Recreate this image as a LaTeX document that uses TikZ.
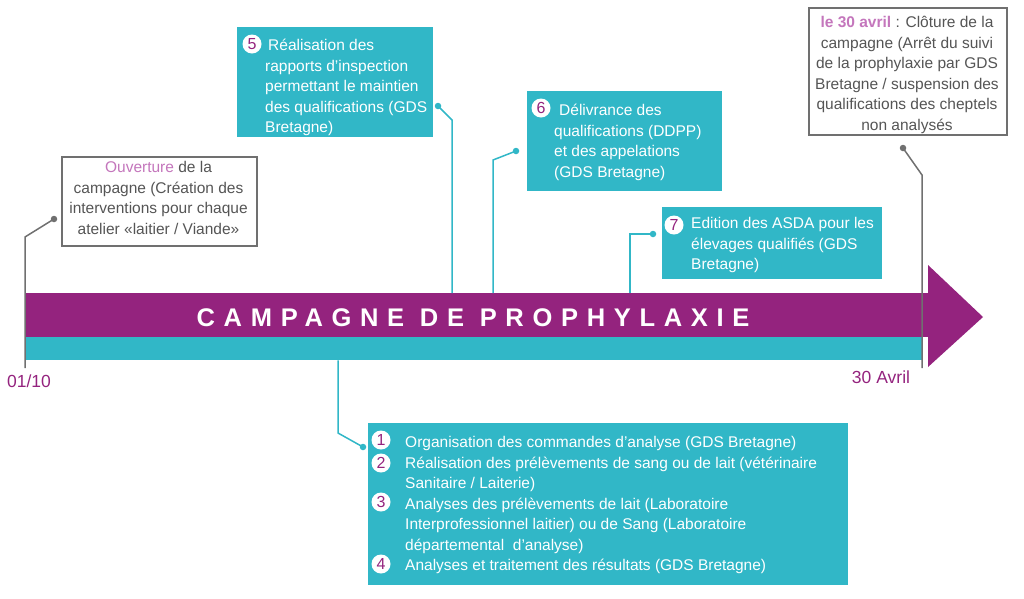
\documentclass[tikz,border=0pt]{standalone}
\usepackage{fontspec}
\setmainfont{Liberation Sans}
\usepackage{tikz}

\definecolor{prophyviolet}{RGB}{148,35,126}
\definecolor{prophyteal}{RGB}{49,183,199}
\definecolor{prophygrey}{RGB}{112,112,112}
\definecolor{prophytext}{RGB}{85,85,85}
\definecolor{prophylilas}{RGB}{196,118,188}

\begin{document}
\begin{tikzpicture}[x=1pt,y=-1pt,
  tealbox/.style={fill=prophyteal, inner sep=0pt, anchor=north west},
  greybox/.style={draw=prophygrey, line width=1.6pt, fill=white, inner sep=0pt, anchor=north west},
  boxtext/.style={inner sep=0pt, align=left, anchor=north west, text=white, font=\fontsize{15.5}{20.5}\selectfont},
  greytext/.style={inner sep=0pt, align=center, anchor=north, text=prophytext, font=\fontsize{15.5}{20.5}\selectfont},
  numdot/.style={circle, fill=white, inner sep=0pt, minimum size=19pt, text=prophyviolet, font=\fontsize{16}{16}\selectfont},
  pin/.style={circle, fill=#1, inner sep=0pt, minimum size=6.5pt},
  tealline/.style={draw=prophyteal, line width=1.5pt},
  greyline/.style={draw=prophygrey, line width=1.5pt},
  datetext/.style={inner sep=0pt, text=prophyviolet, font=\fontsize{17.5}{17.5}\selectfont}
]
\useasboundingbox (0,0) rectangle (1024,598);

% la fleche de la campagne
\node[fill=prophyviolet, inner sep=0pt, minimum width=903pt, minimum height=44pt, anchor=north west] (barre) at (25,293) {};
\fill[prophyviolet] (928,265) -- (983,317) -- (928,367) -- cycle;
\node[fill=prophyteal, inner sep=0pt, minimum width=897pt, minimum height=23pt, anchor=north west] (bande) at (25,337) {};
\node[text=white, font={\fontsize{25.5}{30}\selectfont\bfseries\addfontfeature{LetterSpace=34}}] (titre) at (473,318) {CAMPAGNE DE PROPHYLAXIE};

% ouverture
\node[greybox, minimum width=195pt, minimum height=89pt] (ouverture) at (61,156) {};
\node[greytext] (ouverturetxt) at (158.5,159.5) {\rule{0pt}{13pt}{\color{prophylilas}Ouverture} de la\\
  campagne (Création des\\ interventions pour chaque\\ atelier «laitier / Viande»};
\node[pin=prophygrey] (p0) at (54,219) {};
\coordinate (c0) at (25,237);
\coordinate (d0) at (25,368);
\draw[greyline] (p0.center) -- (c0) -- (d0);
\node[datetext] (debut) at (29,381) {01/10};

% cloture
\node[greybox, minimum width=198pt, minimum height=127pt] (cloture) at (808,7) {};
\node[greytext] (cloturetxt) at (907,14.5) {\rule{0pt}{13pt}{\bfseries\color{prophylilas}le 30 avril} : Clôture de la\\
  campagne (Arrêt du suivi\\ de la prophylaxie par GDS\\ Bretagne / suspension des\\
  qualifications des cheptels\\ non analysés};
\node[pin=prophygrey] (p8) at (903,148) {};
\coordinate (c8) at (922,175);
\coordinate (d8) at (922,368);
\draw[greyline] (p8.center) -- (c8) -- (d8);
\node[datetext] (fin) at (881,377) {30 Avril};

% etape 5
\node[tealbox, minimum width=196pt, minimum height=110pt] (etape5) at (237,27) {};
\node[boxtext] (etape5txt) at (265,37.5) {\rule{0pt}{13pt}\hspace*{3pt}Réalisation des\\ rapports d’inspection\\
  permettant le maintien\\ des qualifications (GDS\\ Bretagne)};
\node[numdot] (n5) at (252,44) {5};
\node[pin=prophyteal] (p5) at (438,106) {};
\coordinate (c5) at (452,120);
\draw[tealline] (p5.center) -- (c5) -- (c5 |- barre.north);

% etape 6
\node[tealbox, minimum width=195pt, minimum height=100pt] (etape6) at (527,91) {};
\node[boxtext] (etape6txt) at (554,102.5) {\rule{0pt}{13pt}\hspace*{5pt}Délivrance des\\ qualifications (DDPP)\\
  et des appelations\\ (GDS Bretagne)};
\node[numdot] (n6) at (541,108) {6};
\node[pin=prophyteal] (p6) at (516,151) {};
\coordinate (c6) at (493,160);
\draw[tealline] (p6.center) -- (c6) -- (c6 |- barre.north);

% etape 7
\node[tealbox, minimum width=220pt, minimum height=72pt] (etape7) at (662,207) {};
\node[boxtext] (etape7txt) at (691,215.5) {\rule{0pt}{13pt}Edition des ASDA pour les\\ élevages qualifiés (GDS\\ Bretagne)};
\node[numdot] (n7) at (674,225) {7};
\node[pin=prophyteal] (p7) at (653,234) {};
\coordinate (c7) at (630,234);
\draw[tealline] (p7.center) -- (c7) -- (c7 |- barre.north);

% etapes 1 a 4
\node[tealbox, minimum width=480pt, minimum height=162pt] (etapes) at (368,423) {};
\node[boxtext] (etapestxt) at (405,434.5) {\rule{0pt}{13pt}Organisation des commandes d’analyse (GDS Bretagne)\\
  Réalisation des prélèvements de sang ou de lait (vétérinaire\\
  Sanitaire / Laiterie)\\
  Analyses des prélèvements de lait (Laboratoire\\
  Interprofessionnel laitier) ou de Sang (Laboratoire\\
  départemental \ d’analyse)\\
  Analyses et traitement des résultats (GDS Bretagne)};
\node[numdot] (n1) at (381,440) {1};
\node[numdot] (n2) at (381,463) {2};
\node[numdot] (n3) at (381,502) {3};
\node[numdot] (n4) at (381,564) {4};
\node[pin=prophyteal] (p1) at (363,447) {};
\coordinate (c1) at (338,433);
\draw[tealline] (c1 |- bande.south) -- (c1) -- (p1.center);
\end{tikzpicture}
\end{document}
